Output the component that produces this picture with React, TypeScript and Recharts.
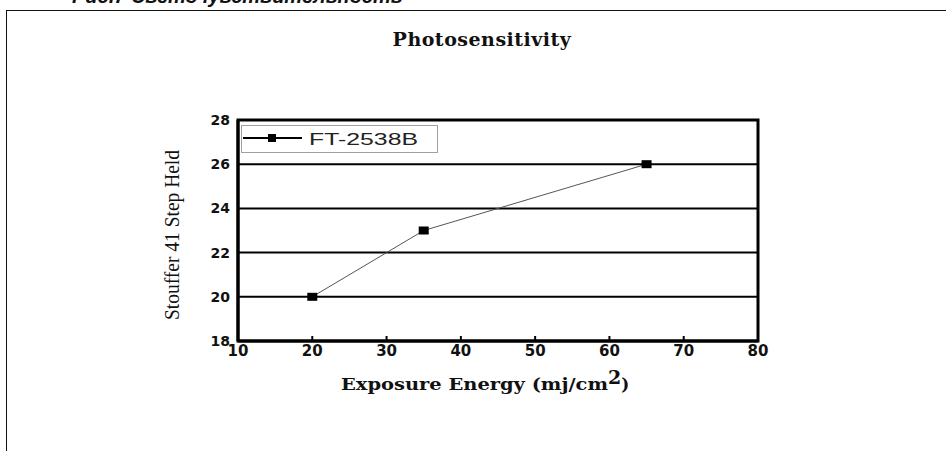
import React from "react";
import {
  LineChart,
  Line,
  XAxis,
  YAxis,
  CartesianGrid,
  ReferenceArea,
  Legend,
  Label,
} from "recharts";

const exposure = [20, 35, 65];
const steps = [20, 23, 26];
const seriesName = "FT-2538B";
const xTicks = [10, 20, 30, 40, 50, 60, 70, 80];
const yTicks = [18, 20, 22, 24, 26, 28];
const title = "Photosensitivity";
const caption = "Рис.7 Светочувствительность";
const xLabel = "Exposure Energy (mj/cm";
const yLabel = "Stouffer 41 Step Held";

const data = exposure.map((x, i) => ({ x, y: steps[i] }));

const SquareDot = (props: any) => {
  const { cx, cy } = props;
  if (cx == null || cy == null) return null;
  return <rect x={cx - 5} y={cy - 4} width={10} height={8} fill="#000" />;
};

const LegendBox = () => (
  <svg width={197} height={28} style={{ display: "block" }}>
    <rect x={0.5} y={0.5} width={196} height={27} fill="#fff" stroke="#a0a0a0" strokeWidth={1} />
    <line x1={2} y1={13} x2={61} y2={13} stroke="#000" strokeWidth={2} />
    <rect x={27} y={9} width={8} height={8} fill="#000" />
    <text
      x={68}
      y={19.5}
      textLength={109}
      lengthAdjust="spacingAndGlyphs"
      style={{
        fontFamily: "'Liberation Sans', Arial, sans-serif",
        fontSize: 17,
        fill: "#222",
      }}
    >
      {seriesName}
    </text>
  </svg>
);

const XLabelContent = () => (
  <text
    x={341}
    y={390}
    textAnchor="start"
    style={{
      fontFamily: "'DejaVu Serif', serif",
      fontWeight: "bold",
      fontSize: 17,
      fill: "#111",
    }}
  >
    <tspan textLength={267} lengthAdjust="spacingAndGlyphs">{xLabel}</tspan>
    <tspan dy={-6} fontSize={19}>2</tspan>
    <tspan dy={6}>)</tspan>
  </text>
);

const YLabelContent = () => (
  <text
    x={179}
    y={235}
    transform="rotate(-90 179 235)"
    textAnchor="middle"
    textLength={170}
    lengthAdjust="spacingAndGlyphs"
    style={{
      fontFamily: "'Liberation Serif', 'Times New Roman', serif",
      fontSize: 22,
      fill: "#111",
    }}
  >
    {yLabel}
  </text>
);

export default function App() {
  return (
    <div
      style={{
        position: "absolute",
        left: 0,
        top: 0,
        width: 946,
        height: 451,
        background: "#fff",
        overflow: "hidden",
      }}
    >
      <div
        style={{
          position: "absolute",
          left: 72,
          top: -16,
          fontFamily: "'Liberation Sans', Arial, sans-serif",
          fontWeight: "bold",
          fontStyle: "italic",
          fontSize: 20,
          lineHeight: "24px",
          color: "#111",
          whiteSpace: "nowrap",
        }}
      >
        {caption}
      </div>
      <div
        style={{
          position: "absolute",
          left: 6,
          top: 10,
          width: 940,
          height: 0,
          borderTop: "1.5px solid #111",
        }}
      />
      <div
        style={{
          position: "absolute",
          left: 6,
          top: 10,
          width: 0,
          height: 441,
          borderLeft: "1.5px solid #111",
        }}
      />
      <div
        style={{
          position: "absolute",
          left: 0,
          top: 28,
          width: 964,
          textAlign: "center",
          fontFamily: "'DejaVu Serif', serif",
          fontWeight: "bold",
          fontSize: 19,
          letterSpacing: 0.5,
          color: "#111",
          lineHeight: "22px",
        }}
      >
        {title}
      </div>
      <div style={{ position: "absolute", left: 0, top: 0 }}>
        <LineChart
          width={946}
          height={451}
          data={data}
          margin={{ top: 120, right: 188, bottom: 80, left: 178 }}
        >
          <CartesianGrid
            vertical={false}
            stroke="#000"
            strokeWidth={2}
            strokeOpacity={1}
          />
          <XAxis
            dataKey="x"
            type="number"
            domain={[10, 80]}
            ticks={xTicks}
            interval={0}
            height={30}
            axisLine={{ stroke: "#000", strokeWidth: 3 }}
            tickLine={{ stroke: "#000", strokeWidth: 2 }}
            tickSize={-5}
            tickMargin={9}
            tick={{
              fill: "#111",
              fontFamily: "'DejaVu Sans', sans-serif",
              fontWeight: "bold",
              fontSize: 15,
            }}
          >
            <Label content={<XLabelContent />} />
          </XAxis>
          <YAxis
            dataKey="y"
            type="number"
            domain={[18, 28]}
            ticks={yTicks}
            interval={0}
            width={60}
            axisLine={{ stroke: "#000", strokeWidth: 3 }}
            tickLine={false}
            tickSize={0}
            tickMargin={8}
            tick={{
              fill: "#111",
              fontFamily: "'DejaVu Sans', sans-serif",
              fontWeight: "bold",
              fontSize: 14,
            }}
          >
            <Label content={<YLabelContent />} />
          </YAxis>
          <ReferenceArea
            x1={10}
            x2={80}
            y1={18}
            y2={28}
            fill="none"
            stroke="#000"
            strokeWidth={3}
            fillOpacity={0}
            ifOverflow="visible"
          />
          <Legend
            content={<LegendBox />}
            layout="horizontal"
            verticalAlign="middle"
            align="center"
            wrapperStyle={{ position: "absolute", left: 241, top: 125, width: 197, height: 28 }}
          />
          <Line
            dataKey="y"
            name={seriesName}
            stroke="#555"
            strokeWidth={1}
            dot={<SquareDot />}
            activeDot={false}
            isAnimationActive={false}
          />
        </LineChart>
      </div>
    </div>
  );
}
